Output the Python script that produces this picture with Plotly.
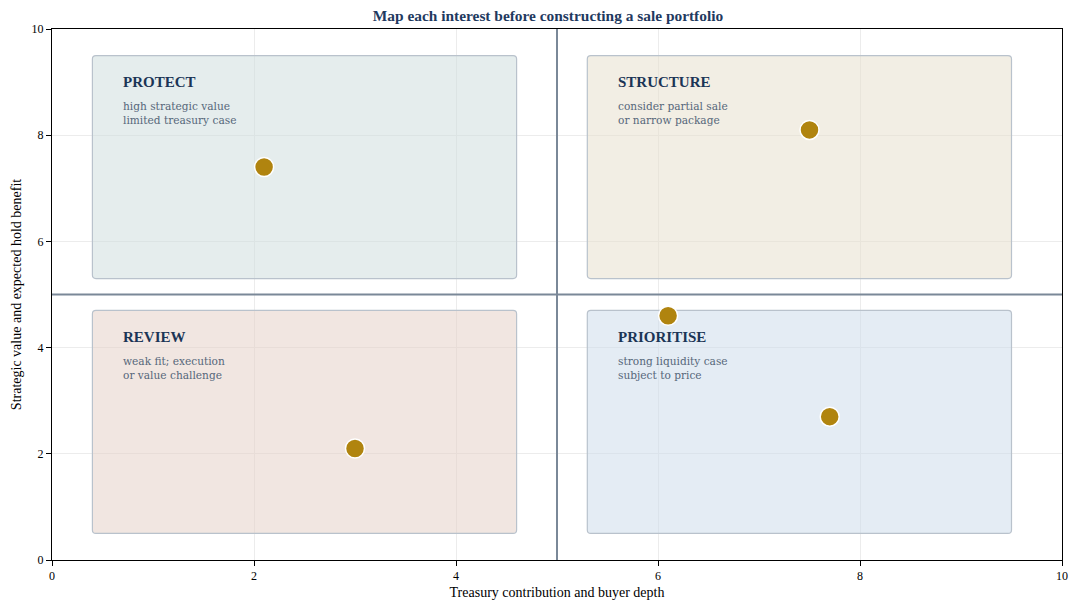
import plotly.graph_objects as go

# interests plotted on the map
pts_x = [2.1, 7.5, 6.1, 7.7, 3.0]
pts_y = [7.4, 8.1, 4.6, 2.7, 2.1]

# quadrant panels
quad_names = ["PROTECT", "STRUCTURE", "REVIEW", "PRIORITISE"]
quad_notes = ["high strategic value<br>limited treasury case",
              "consider partial sale<br>or narrow package",
              "weak fit; execution<br>or value challenge",
              "strong liquidity case<br>subject to price"]
quad_x0 = [0.4, 5.3, 0.4, 5.3]
quad_x1 = [4.6, 9.5, 4.6, 9.5]
quad_y0 = [5.3, 5.3, 0.5, 0.5]
quad_y1 = [9.5, 9.5, 4.7, 4.7]
quad_fill = ["rgba(208,223,222,0.55)", "rgba(232,224,205,0.55)",
             "rgba(230,210,200,0.55)", "rgba(205,220,235,0.55)"]
label_x = [0.68, 5.58, 0.68, 5.58]
label_y = [9.0, 9.0, 4.2, 4.2]
note_y = [8.42, 8.42, 3.62, 3.62]

split = 5

FONT = "Liberation Serif"

fig = go.Figure()


def rounded(x0, x1, y0, y1, rx=0.035, ry=0.065):
    return (f"M {x0+rx},{y0} L {x1-rx},{y0} Q {x1},{y0} {x1},{y0+ry} "
            f"L {x1},{y1-ry} Q {x1},{y1} {x1-rx},{y1} "
            f"L {x0+rx},{y1} Q {x0},{y1} {x0},{y1-ry} "
            f"L {x0},{y0+ry} Q {x0},{y0} {x0+rx},{y0} Z")


for i in range(4):
    fig.add_shape(type="path", path=rounded(quad_x0[i], quad_x1[i], quad_y0[i], quad_y1[i]),
                  xref="x", yref="y", fillcolor=quad_fill[i],
                  line=dict(color="#B9C2CC", width=1.2), layer="between")
    fig.add_annotation(x=label_x[i], y=label_y[i], text="<b>" + quad_names[i] + "</b>",
                       showarrow=False, xanchor="left", yanchor="middle",
                       font=dict(family=FONT, size=15, color="#1B3556"))
    fig.add_annotation(x=label_x[i], y=note_y[i], text=quad_notes[i],
                       showarrow=False, xanchor="left", yanchor="middle", align="left",
                       font=dict(family="DejaVu Serif", size=10.6, color="#56677A"))

fig.add_shape(type="line", x0=split, x1=split, y0=0, y1=10, xref="x", yref="y",
              line=dict(color="#7A8898", width=2), layer="between")
fig.add_shape(type="line", x0=0, x1=10, y0=split, y1=split, xref="x", yref="y",
              line=dict(color="#7A8898", width=2), layer="between")

fig.add_trace(go.Scatter(x=pts_x, y=pts_y, mode="markers",
                         marker=dict(size=19, color="#B0840F",
                                     line=dict(color="white", width=1.5)),
                         showlegend=False))

fig.update_layout(
    width=1080, height=610,
    margin=dict(l=44, r=26, t=21, b=58),
    paper_bgcolor="white", plot_bgcolor="white",
    font=dict(family=FONT, size=12, color="black"),
    title=dict(text="<b>Map each interest before constructing a sale portfolio</b>",
               x=0.5, xanchor="center", y=0.997, yanchor="top",
               font=dict(family=FONT, size=15.4, color="#1F3A5F")),
)
fig.update_xaxes(range=[0, 10], dtick=2, showgrid=True, gridcolor="#ECECEC",
                 showline=True, linecolor="black", linewidth=1, mirror=True,
                 ticks="outside", ticklen=5, tickcolor="black", zeroline=False,
                 automargin=False,
                 title=dict(text="Treasury contribution and buyer depth", standoff=4))
fig.update_yaxes(range=[0, 10], dtick=2, showgrid=True, gridcolor="#ECECEC",
                 showline=True, linecolor="black", linewidth=1, mirror=True,
                 ticks="outside", ticklen=5, tickcolor="black", zeroline=False,
                 automargin=False,
                 title=dict(text="Strategic value and expected hold benefit", standoff=6))

fig.write_html("out.html")
